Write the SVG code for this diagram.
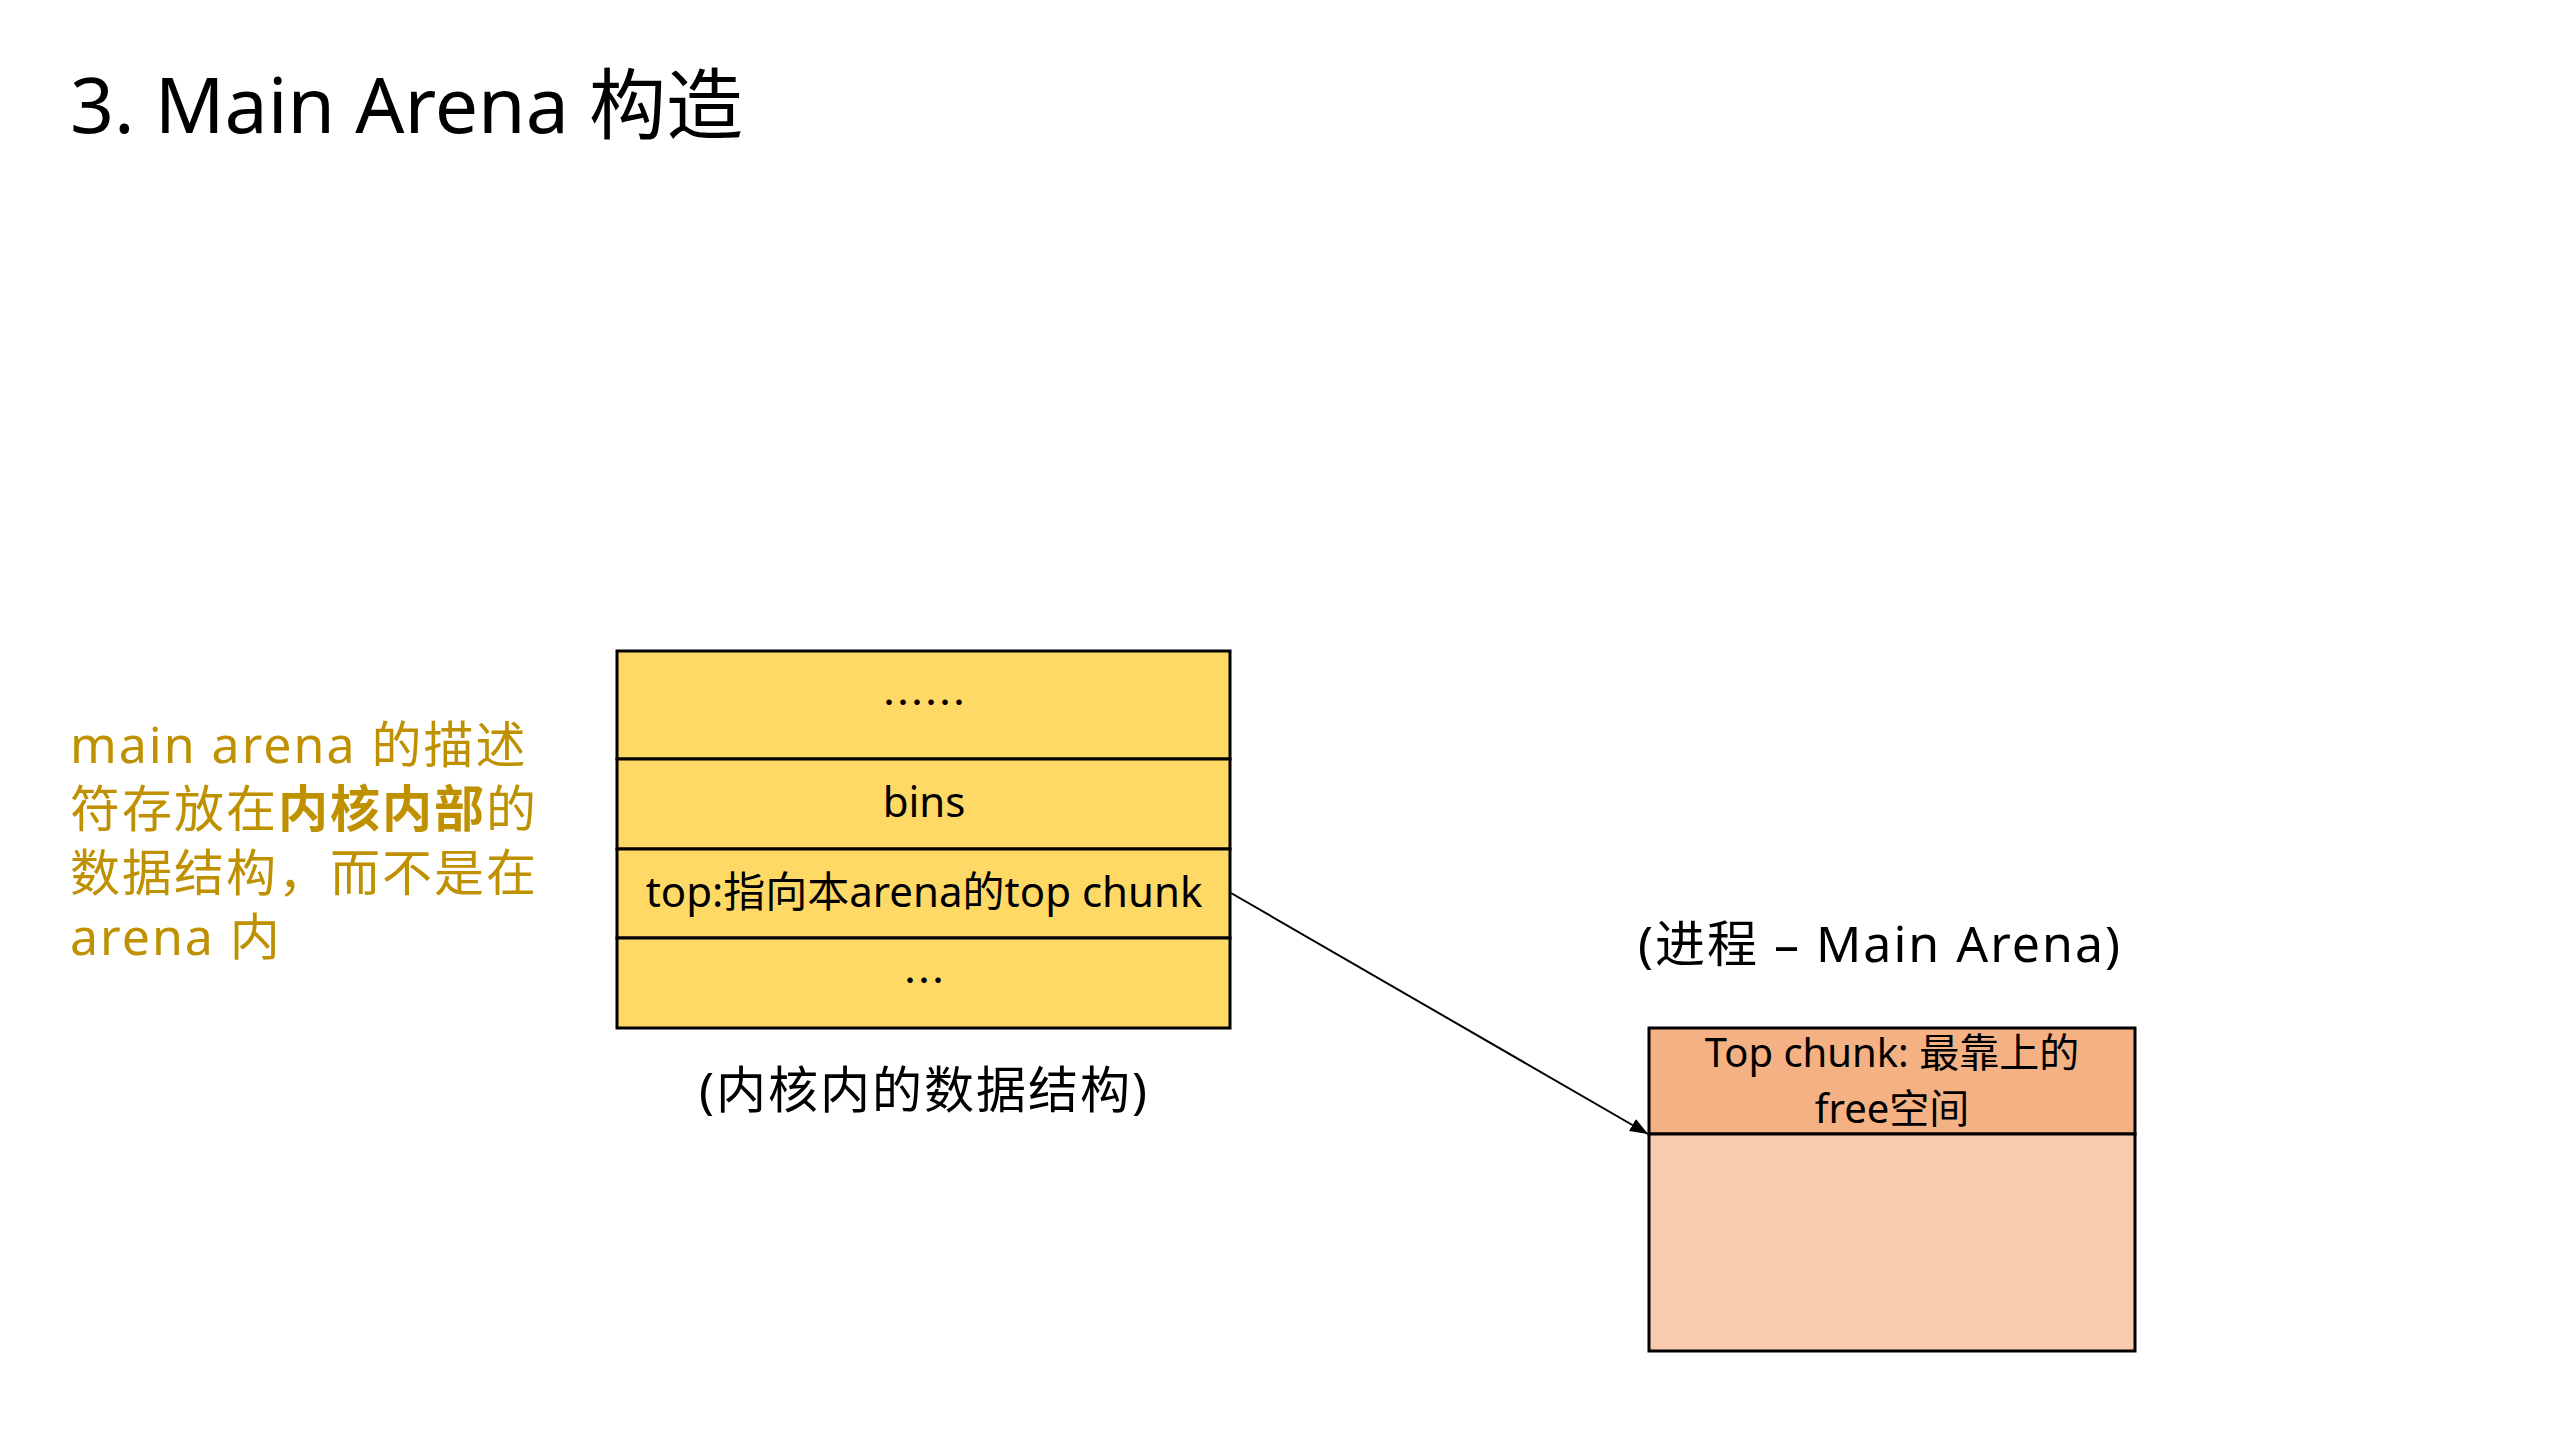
<svg xmlns="http://www.w3.org/2000/svg" width="2559" height="1439" viewBox="0 0 2559 1439">
  <style>
    text { font-family: "Noto Sans", "Noto Sans CJK SC", sans-serif; fill: #000; }
    .cjk { font-family: "Noto Sans CJK SC", sans-serif; }
    .cell { stroke: #000; stroke-width: 3; }
    .yellow { fill: #FFD966; }
    .orange { fill: #F4B183; }
    .peach { fill: #F8CBAD; }
    .field { font-size: 42px; text-anchor: middle; }
    .chunk { font-size: 40px; text-anchor: middle; }
    .note { font-size: 50px; fill: #BF9000; letter-spacing: 2px; }
    .caption { font-size: 50px; text-anchor: middle; letter-spacing: 2px; }
    .link { stroke: #000; stroke-width: 2; fill: none; }
  </style>
  <defs>
    <marker id="arrow" markerUnits="userSpaceOnUse" markerWidth="20" markerHeight="14" refX="18" refY="7" orient="auto">
      <path d="M0,0 L18,7 L0,14 Z" fill="#000"/>
    </marker>
  </defs>

  <rect width="2559" height="1439" fill="#fff"/>

  <!-- heading -->
  <text id="title" x="70" y="133" font-size="77">3. Main Arena 构造</text>

  <!-- side note -->
  <g id="note">
    <text class="note" x="70" y="763">main arena 的描述</text>
    <text class="note" x="70" y="827">符存放在<tspan font-weight="bold">内核内部</tspan>的</text>
    <text class="note" x="70" y="891">数据结构，而不是在</text>
    <text class="note" x="70" y="955">arena 内</text>
  </g>

  <!-- main arena descriptor (kernel-side structure) -->
  <g id="arena-struct">
    <rect class="cell yellow" x="617" y="651" width="613" height="108"/>
    <rect class="cell yellow" x="617" y="759" width="613" height="90"/>
    <rect class="cell yellow" x="617" y="849" width="613" height="89"/>
    <rect class="cell yellow" x="617" y="938" width="613" height="90"/>
    <text class="field cjk" x="924" y="718">……</text>
    <text class="field" x="924" y="817">bins</text>
    <text class="field" x="924" y="907">top:指向本arena的top chunk</text>
    <text class="field cjk" x="924" y="996">…</text>
  </g>
  <text id="struct-caption" class="caption" x="924" y="1108">(内核内的数据结构)</text>

  <!-- process heap: main arena -->
  <text id="heap-caption" class="caption" x="1880" y="962">(进程 – Main Arena)</text>
  <g id="heap">
    <rect class="cell orange" x="1649" y="1028" width="486" height="106"/>
    <rect class="cell peach" x="1649" y="1134" width="486" height="217"/>
    <text class="chunk"><tspan x="1892" y="1067">Top chunk: 最靠上的</tspan><tspan x="1892" y="1123">free空间</tspan></text>
  </g>

  <!-- connectors -->
  <g id="connectors">
    <line class="link" x1="1231" y1="893" x2="1648" y2="1134" marker-end="url(#arrow)"/>
  </g>
</svg>
